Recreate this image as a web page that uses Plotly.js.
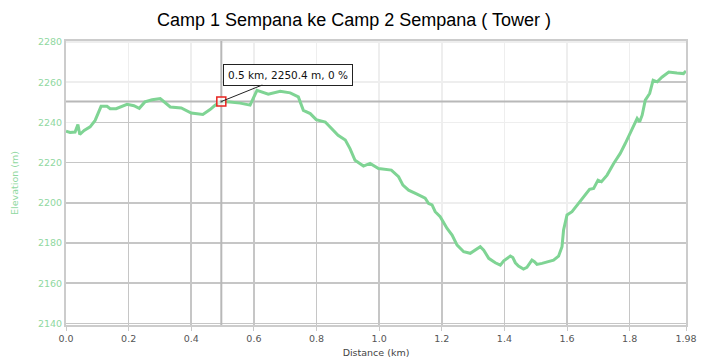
<!DOCTYPE html>
<html>
<head>
<meta charset="utf-8">
<script src="https://cdn.plot.ly/plotly-3.0.1.min.js"></script>
<style>html,body{margin:0;padding:0;background:#fff;}#chart{width:708px;height:364px;}</style>
</head>
<body>
<div id="chart"></div>
<script>
// Distance along the track (km)
const distanceKm = [0, 0.013, 0.029, 0.038, 0.044, 0.058, 0.077, 0.093, 0.112, 0.131, 0.141, 0.160, 0.195, 0.217, 0.234, 0.252, 0.275, 0.301, 0.333, 0.368, 0.400, 0.437, 0.460, 0.476, 0.496, 0.524, 0.556, 0.588, 0.610, 0.646, 0.684, 0.716, 0.742, 0.758, 0.780, 0.799, 0.828, 0.869, 0.892, 0.907, 0.923, 0.950, 0.971, 0.998, 1.039, 1.062, 1.076, 1.094, 1.121, 1.147, 1.158, 1.169, 1.179, 1.195, 1.217, 1.233, 1.249, 1.270, 1.291, 1.307, 1.323, 1.334, 1.350, 1.371, 1.387, 1.398, 1.419, 1.427, 1.435, 1.445, 1.461, 1.472, 1.488, 1.496, 1.504, 1.520, 1.541, 1.557, 1.573, 1.584, 1.589, 1.600, 1.616, 1.632, 1.653, 1.672, 1.685, 1.699, 1.710, 1.728, 1.749, 1.770, 1.786, 1.802, 1.818, 1.824, 1.832, 1.840, 1.850, 1.864, 1.875, 1.888, 1.904, 1.925, 1.951, 1.972, 1.980];
// Elevation (m)
const elevationM = [2235.6, 2235.0, 2235.2, 2239.0, 2234.0, 2236.0, 2237.8, 2241.0, 2248.0, 2248.0, 2246.8, 2246.8, 2249.0, 2248.3, 2247.0, 2250.2, 2251.3, 2251.9, 2247.7, 2247.2, 2244.7, 2244.0, 2246.4, 2248.5, 2250.4, 2250.2, 2249.6, 2248.6, 2256.0, 2254.0, 2255.5, 2254.7, 2252.7, 2246.0, 2244.4, 2241.4, 2240.2, 2233.6, 2231.2, 2227.0, 2221.2, 2218.3, 2219.6, 2217.1, 2216.3, 2213.0, 2208.8, 2206.3, 2204.3, 2202.3, 2199.7, 2199.0, 2195.6, 2193.1, 2187.3, 2184.0, 2179.0, 2175.7, 2174.9, 2176.5, 2178.2, 2176.5, 2172.4, 2170.2, 2169.0, 2171.2, 2173.5, 2172.8, 2170.2, 2168.6, 2167.1, 2167.9, 2171.5, 2170.7, 2169.4, 2169.9, 2171.0, 2171.5, 2173.5, 2178.2, 2186.5, 2194.0, 2195.6, 2198.9, 2203.0, 2206.7, 2207.2, 2211.3, 2210.5, 2213.8, 2219.6, 2224.6, 2229.5, 2234.5, 2239.5, 2242.0, 2240.3, 2243.6, 2251.1, 2254.4, 2261.0, 2260.2, 2262.6, 2265.1, 2264.6, 2264.3, 2265.6];

const xTickVals = [0, 0.2, 0.4, 0.6, 0.8, 1.0, 1.2, 1.4, 1.6, 1.8, 1.98];
const xTickText = ['0.0', '0.2', '0.4', '0.6', '0.8', '1.0', '1.2', '1.4', '1.6', '1.8', '1.98'];
const yTickVals = [2140, 2160, 2180, 2200, 2220, 2240, 2260, 2280];

// Hovered point shown in the reference
const hoverKm = [0.496];
const hoverElev = [2250.4];
const hoverLabel = '0.5 km, 2250.4 m, 0 %';

const xRange = [0, 1.98];
const yRange = [2139.25, 2280.5];

const green = '#7fd494';
const tickGreen = '#8fd8a0';
const crossColor = '#b8b8b8';

const traces = [
  // base for the light overlay above the curve
  {x: distanceKm, y: elevationM, mode: 'lines', line: {width: 0, color: 'rgba(0,0,0,0)'}, hoverinfo: 'skip', showlegend: false},
  {x: distanceKm, y: distanceKm.map(() => yRange[1]), mode: 'lines', line: {width: 0, color: 'rgba(0,0,0,0)'},
   fill: 'tonexty', fillcolor: 'rgba(255,255,255,0.7)', hoverinfo: 'skip', showlegend: false},
  // crosshair at the hovered point
  {x: [hoverKm[0], hoverKm[0]], y: yRange, mode: 'lines', line: {color: crossColor, width: 2}, hoverinfo: 'skip', showlegend: false},
  {x: xRange, y: [hoverElev[0], hoverElev[0]], mode: 'lines', line: {color: crossColor, width: 2}, hoverinfo: 'skip', showlegend: false},
  // the elevation profile
  {x: distanceKm, y: elevationM, mode: 'lines', line: {color: green, width: 3}, hoverinfo: 'skip', showlegend: false},
  // hover marker
  {x: hoverKm, y: hoverElev, mode: 'markers', marker: {symbol: 'square', size: 9, color: 'rgba(255,255,255,0.7)', line: {color: '#e8231f', width: 1.5}}, hoverinfo: 'skip', showlegend: false},
  {x: hoverKm, y: hoverElev, mode: 'markers', marker: {symbol: 'circle', size: 3, color: '#999'}, hoverinfo: 'skip', showlegend: false}
];

const layout = {
  width: 708, height: 364,
  margin: {l: 66, r: 22, t: 41, b: 39},
  paper_bgcolor: '#fff', plot_bgcolor: '#fff',
  title: {text: 'Camp 1 Sempana ke Camp 2 Sempana ( Tower )', font: {family: 'Liberation Sans, Arial, sans-serif', size: 18, color: '#000'}, x: 0.5, xanchor: 'center', y: 0.945, yanchor: 'middle'},
  xaxis: {
    range: xRange, tickvals: xTickVals, ticktext: xTickText,
    showgrid: true, gridcolor: '#c6c6c6', gridwidth: 1.6,
    showline: true, linecolor: '#cccccc', linewidth: 2, mirror: true,
    ticks: 'outside', ticklen: 4, tickcolor: '#c8c8c8',
    tickfont: {family: 'DejaVu Sans, Verdana, sans-serif', size: 9.5, color: '#555'},
    zeroline: false,
    title: {text: 'Distance (km)', font: {family: 'DejaVu Sans, Verdana, sans-serif', size: 9.5, color: '#444'}, standoff: 6}
  },
  yaxis: {
    range: yRange, tickvals: yTickVals,
    showgrid: true, gridcolor: '#c6c6c6', gridwidth: 1.6,
    showline: true, linecolor: '#cccccc', linewidth: 2, mirror: true,
    ticks: '', tickfont: {family: 'DejaVu Sans, Verdana, sans-serif', size: 9.5, color: tickGreen},
    zeroline: false,
    title: {text: 'Elevation (m)', font: {family: 'DejaVu Sans, Verdana, sans-serif', size: 9.5, color: tickGreen}, standoff: 18}
  },
  annotations: [
    {x: hoverKm[0], y: hoverElev[0], xref: 'x', yref: 'y', text: hoverLabel, showarrow: true, arrowhead: 0, arrowwidth: 1, arrowcolor: '#222',
     ax: 67, ay: -27, bgcolor: '#fff', bordercolor: '#222', borderwidth: 1, borderpad: 4,
     font: {family: 'DejaVu Sans, Verdana, sans-serif', size: 10.5, color: '#111'}}
  ]
};

Plotly.newPlot('chart', traces, layout, {displayModeBar: false, staticPlot: true});
</script>
</body>
</html>
